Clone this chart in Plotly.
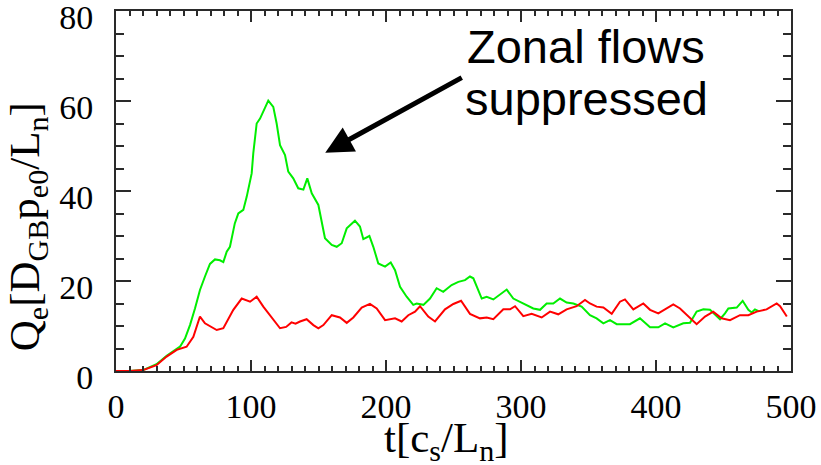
import plotly.graph_objects as go

# ---- data ----
green_t = [0, 10, 20, 30, 37.5, 47.4, 51.1, 54.8, 58.5, 62.2, 65.9, 69.6, 73.3, 77, 79.5, 82, 84.4, 88, 90.6,
           94.3, 96.8, 100.5, 101.7, 104.2, 106.7, 109.1, 112.8, 116.5, 119, 121.5, 125.2, 127.6, 131.3, 135,
           138.8, 141.7, 145, 149.9, 154.8, 159.8, 163.5, 167.2, 170.9, 177, 180.7, 183.2, 187.7, 190.6, 194.3,
           199.3, 203.5, 206.7, 210.4, 215.3, 220.2, 222.7, 227.7, 232.6, 237.5, 242.4, 248.6, 253.6, 258.5,
           262.2, 264.7, 270.9, 274.6, 279.5, 284.4, 289.4, 294.3, 299.3, 304.2, 309.1, 314.1, 319, 323.9,
           328.9, 333.8, 338.8, 344.9, 351.1, 356, 361, 365.9, 370.9, 380.7, 388.1, 395.6, 401.7, 406.7, 412.8,
           420.2, 425.2, 430.1, 435.1, 440, 447.4, 451.1, 453.6, 459.8, 464.2, 468.4, 470.9, 473.3, 476]
green_q = [0, 0, 0.2, 1.5, 3.4, 5.4, 7.2, 10.2, 13.9, 18, 21, 23.8, 24.8, 24.6, 24.2, 26.5, 27.6, 32.8, 35,
           35.8, 38.7, 43.9, 48.4, 55, 56.1, 57.6, 60.1, 58.7, 55, 50.2, 48, 44.3, 42.8, 40.6,
           40.3, 42.8, 39.5, 36.9, 29.5, 28, 27.6, 28.4, 31.7, 33.4, 32.1, 29.3, 30, 27.6, 23.9,
           23.2, 24.1, 22.4, 18.7, 16.5, 14.7, 15, 14.7, 16.1, 18.4, 17.6, 19.1, 19.8, 20.2,
           21, 20.6, 16.1, 16.5, 15.9, 16.9, 18.1, 16.1, 15.4, 14.7, 13.9, 13.6, 15, 15,
           16.1, 15.2, 15, 14.3, 12.4, 11.7, 10.6, 11.3, 10.4, 10.4, 11.7, 9.7, 9.7, 10.6, 9.7,
           10.6, 10.7, 13.2, 13.7, 13.6, 11.5, 12.8, 13.9, 14.1, 15.6, 13.6, 13, 13.7, 13.3]

red_t = [0, 10, 20, 30, 37.5, 45, 52.3, 57.3, 62.2, 65.9, 74.6, 79.5, 86.9, 93.1, 99.3, 104.2, 109.1, 116.5,
         121.5, 126, 130, 133, 136.3, 141.2, 146.2, 149.9, 153.6, 159.8, 165.9, 170.9, 175.8, 182, 188.1,
         193.1, 199.3, 206.7, 211.6, 216.5, 221.5, 225.2, 231.3, 236.3, 243.7, 249.9, 255.6, 262.2, 269.6,
         274.6, 279.5, 286.9, 291.9, 295.6, 301.7, 307.9, 315.3, 321.5, 327.6, 333.8, 341.2, 347.4, 351.1,
         356, 361, 367.2, 373.3, 377, 383.2, 390.6, 395.6, 401.7, 406.7, 412.8, 417.8, 423.9, 430.1, 436.3,
         442.4, 448.6, 454.8, 462.2, 468.4, 474.6, 481.9, 489.4, 491.9, 496.9]
red_q = [0, 0, 0.2, 1.3, 3.2, 4.7, 5.4, 7.6, 12.1, 10.6, 9.1, 9.5, 13.6, 16.1, 15.4, 16.5, 14.3, 11.3,
         9.5, 9.8, 10.8, 10.5, 11, 11.5, 10.2, 9.5, 10.2, 12.4, 11.9, 10.7, 11.9, 14.1, 14.9,
         13.9, 11.3, 11.7, 11, 12.4, 13.2, 14.4, 12.1, 11, 13.7, 14.9, 15.6, 12.7, 11.7,
         11.9, 11.5, 13.7, 13.7, 14.4, 12.2, 12.7, 11.9, 13.2, 12.6, 13.7, 14.4, 15.8, 15,
         14.3, 14.1, 12.7, 15.4, 15.9, 13.7, 15, 13.6, 12.8, 13.7, 14.8, 13.9, 12.1, 10.4, 12.1,
         13.2, 11.7, 11.3, 12.4, 12.4, 13.2, 13.7, 15, 14.4, 12.1]

x_ticks = [0, 100, 200, 300, 400, 500]
y_ticks = [0, 20, 40, 60, 80]
x_minor_step = 10
y_minor_step = 5
x_range = [0, 500]
y_range = [0, 80]

fig = go.Figure()
fig.add_trace(go.Scatter(x=green_t, y=green_q, mode="lines",
                         line=dict(color="#00ee00", width=2), showlegend=False))
fig.add_trace(go.Scatter(x=red_t, y=red_q, mode="lines",
                         line=dict(color="#ff0000", width=2), showlegend=False))

axc = "#2a2a2a"
tickfont = dict(family="Liberation Serif", size=34, color="black")
xcommon = dict(range=x_range, tickmode="linear", tick0=x_ticks[0], dtick=x_ticks[1] - x_ticks[0],
               ticks="inside", ticklen=11, tickwidth=2, tickcolor=axc,
               minor=dict(tickmode="linear", tick0=x_ticks[0], dtick=x_minor_step, ticks="inside",
                          ticklen=5, tickwidth=1.5, tickcolor=axc, showgrid=False),
               showline=True, linewidth=2, linecolor=axc, showgrid=False, zeroline=False,
               automargin=False, fixedrange=True, layer="above traces")
ycommon = dict(range=y_range, tickmode="linear", tick0=y_ticks[0], dtick=y_ticks[1] - y_ticks[0],
               ticks="inside", ticklen=15, tickwidth=2, tickcolor=axc,
               minor=dict(tickmode="linear", tick0=y_ticks[0], dtick=y_minor_step, ticks="inside",
                          ticklen=8, tickwidth=2, tickcolor=axc, showgrid=False),
               showline=True, linewidth=2, linecolor=axc, showgrid=False, zeroline=False,
               automargin=False, fixedrange=True, layer="above traces")

fig.update_layout(
    xaxis=dict(**xcommon, tickfont=tickfont, ticklabelstandoff=4, ticklabeloverflow="allow"),
    yaxis=dict(**ycommon, tickfont=tickfont, ticklabelstandoff=14, ticklabelshift=6,
               ticklabeloverflow="allow"),
    xaxis2=dict(**xcommon, overlaying="x", side="top", showticklabels=False, anchor="y"),
    yaxis2=dict(**ycommon, overlaying="y", side="right", showticklabels=False, anchor="x"),
)
# invisible helper trace so the mirrored top/right axes are drawn
fig.add_trace(go.Scatter(x=[x_range[0]], y=[y_range[0]], xaxis="x2", yaxis="y2", mode="markers",
                         marker=dict(opacity=0), showlegend=False, hoverinfo="skip"))

titlefont = dict(family="Liberation Serif", size=43, color="black")
annotations = [
    dict(text="Q<sub>e</sub>[D<sub>GB</sub>p<sub>e0</sub>/L<sub>n</sub>]", xref="paper", yref="paper",
         x=-0.13, y=0.40, showarrow=False, textangle=-90, font=titlefont,
         xanchor="center", yanchor="middle"),
    dict(text="t[c<sub>s</sub>/L<sub>n</sub>]", xref="paper", yref="paper",
         x=0.49, y=(371 - 441) / 360, showarrow=False, font=titlefont,
         xanchor="center", yanchor="middle"),
    dict(text="Zonal flows", xref="paper", yref="paper", x=0.697, y=(371 - 47) / 360,
         showarrow=False, font=dict(family="Liberation Sans", size=47, color="black"),
         xanchor="center", yanchor="middle"),
    dict(text="suppressed", xref="paper", yref="paper", x=0.697, y=(371 - 98) / 360,
         showarrow=False, font=dict(family="Liberation Sans", size=47, color="black"),
         xanchor="center", yanchor="middle"),
    dict(text="", x=155, y=48.5, xref="x", yref="y", ax=138, ay=-76, axref="pixel", ayref="pixel",
         showarrow=True, arrowhead=2, arrowsize=1.1, arrowwidth=5, arrowcolor="black", standoff=0),
]

fig.update_layout(width=821, height=465, margin=dict(l=116, r=30, t=11, b=94, autoexpand=False),
                  paper_bgcolor="white", plot_bgcolor="white", annotations=annotations)

fig.write_html("out.html", config={"displayModeBar": False},
               post_script="document.body.style.margin='0';document.body.style.overflow='hidden';")
